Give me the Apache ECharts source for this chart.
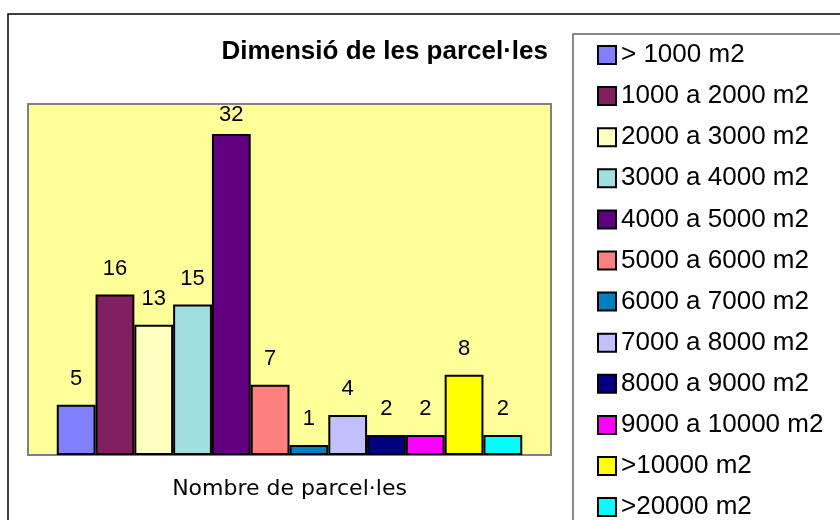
<!DOCTYPE html>
<html>
<head>
<meta charset="utf-8">
<script src="https://cdn.jsdelivr.net/npm/echarts@6/dist/echarts.min.js"></script>
<style>
  html, body { margin: 0; padding: 0; background: #fff; }
  #chart { width: 840px; height: 520px; }
</style>
</head>
<body>
<div id="chart"></div>
<script>
// dades del gràfic
var categories = ['Nombre de parcel·les'];
var seriesNames = ['> 1000 m2', '1000 a 2000 m2', '2000 a 3000 m2', '3000 a 4000 m2',
    '4000 a 5000 m2', '5000 a 6000 m2', '6000 a 7000 m2', '7000 a 8000 m2',
    '8000 a 9000 m2', '9000 a 10000 m2', '>10000 m2', '>20000 m2'];
var seriesValues = [5, 16, 13, 15, 32, 7, 1, 4, 2, 2, 8, 2];
var seriesColors = ['#8080FF', '#802060', '#FFFFC0', '#A0E0E0', '#600080', '#FF8080',
    '#0080C0', '#C0C0FF', '#000080', '#FF00FF', '#FFFF00', '#00FFFF'];

var chart = echarts.init(document.getElementById('chart'));

var series = [];
for (let i = 0; i < seriesNames.length; i++) {
    series.push({
        name: seriesNames[i],
        type: 'bar',
        barGap: '0%',
        barCategoryGap: '11%',
        animation: false,
        itemStyle: {
            color: seriesColors[i],
            borderColor: '#000',
            borderWidth: 2
        },
        label: {
            show: true,
            position: 'top',
            distance: seriesValues[i] >= 30 ? 8 : 15,
            color: '#000',
            fontFamily: 'Liberation Sans',
            fontSize: 22
        },
        data: [seriesValues[i]]
    });
}

var option = {
    backgroundColor: '#fff',
    title: {
        text: 'Dimensió de les parcel·les',
        right: 292,
        top: 39,
        padding: 0,
        textStyle: {
            fontFamily: 'Liberation Sans',
            fontWeight: 'bold',
            fontSize: 26,
            color: '#000'
        }
    },
    legend: {
        orient: 'vertical',
        left: 597,
        top: 42,
        height: 490,
        padding: 0,
        itemWidth: 18,
        itemHeight: 18,
        itemGap: 15.1,
        itemTextGap: 6,
        icon: 'rect',
        textStyle: {
            fontFamily: 'Liberation Sans',
            fontSize: 26,
            lineHeight: 26,
            color: '#000'
        },
        data: seriesNames
    },
    grid: {
        left: 28,
        right: 289,
        top: 104,
        bottom: 65,
        show: true,
        backgroundColor: '#FFFF99',
        borderColor: '#808080',
        borderWidth: 2
    },
    xAxis: {
        type: 'category',
        data: categories,
        axisLine: { lineStyle: { color: '#808080', width: 2 } },
        axisTick: { length: 7, lineStyle: { color: '#808080', width: 2 } },
        axisLabel: {
            margin: 23,
            color: '#000',
            fontFamily: 'DejaVu Sans',
            fontSize: 22
        }
    },
    yAxis: {
        type: 'value',
        min: 0,
        max: 35,
        show: false,
        splitLine: { show: false }
    },
    graphic: [{
        type: 'rect',
        shape: { x: 8, y: 14, width: 900, height: 600 },
        style: { fill: 'none', stroke: '#000', lineWidth: 1.5 },
        z: 100
    }, {
        // marc de la llegenda
        type: 'rect',
        shape: { x: 573, y: 34, width: 400, height: 600 },
        style: { fill: 'none', stroke: '#666', lineWidth: 1.5 },
        z: 100
    }],
    series: series
};

chart.setOption(option);
</script>
</body>
</html>
